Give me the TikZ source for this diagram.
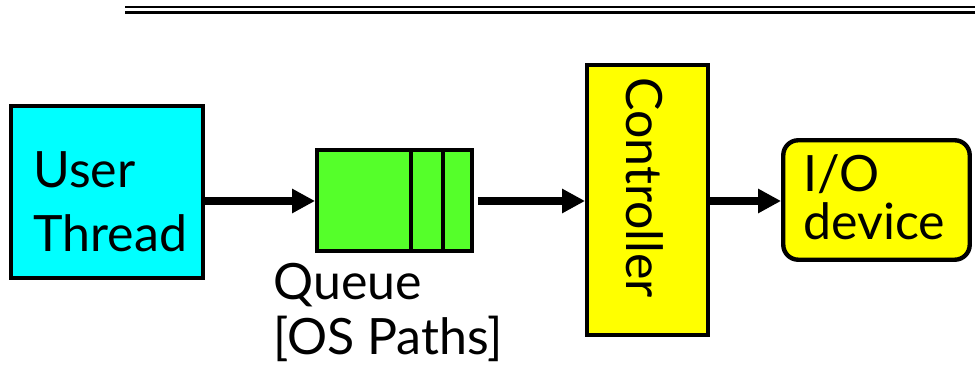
\documentclass[tikz,border=0pt]{standalone}
\usepackage{fontspec}
\setmainfont{Lato}
\usepackage{tikz}
\usetikzlibrary{arrows.meta, calc}
\definecolor{threadcyan}{RGB}{0,255,255}
\definecolor{queuegreen}{RGB}{85,255,42}
\definecolor{ctrlyellow}{RGB}{255,255,0}

\tikzset{
  box/.style={draw, line width=2.5pt, inner sep=0pt},
  lbl/.style={inner sep=0pt, anchor=base west, font=\fontsize{28.5}{34}\selectfont},
  link/.style={line width=4pt, -{Triangle[length=0.46cm, width=0.46cm]}}
}

\begin{document}
\begin{tikzpicture}[x=0.02cm, y=-0.02cm]
  \useasboundingbox (0,0) rectangle (975,367);
  % double rule at the top
  \draw[line width=1.4pt] (125,7) -- (975,7);
  \draw[line width=1.4pt] (125,12.7) -- (975,12.7);

  \node[box, fill=threadcyan, minimum width=3.83cm, minimum height=3.43cm] (thread) at (107,192) {};
  \node[box, fill=queuegreen, minimum width=3.09cm, minimum height=2.01cm] (queue) at (394.5,200.5) {};
  \node[box, fill=ctrlyellow, minimum width=2.41cm, minimum height=5.39cm] (ctrl) at (647.5,200) {};
  \node[box, fill=ctrlyellow, rounded corners=0.3cm, minimum width=3.73cm, minimum height=2.39cm] (io) at (876.5,200) {};
  \foreach \d in {411,443}{
    \draw[line width=2.5pt] (\d,0 |- queue.north) -- (\d,0 |- queue.south);
  }

  \node[lbl] (user) at (33,188) {User};
  \node[lbl] (thr) at (33,252) {Thread};
  \node[lbl] (qname) at (273,300) {Queue};
  \node[lbl] (qpath) at (273,355) {[OS Paths]};
  \node[lbl, rotate=-90] (cname) at (626,77) {Controller};
  \node[lbl] (ioa) at (803,192) {I/O};
  \node[lbl] (iob) at (803,240) {device};

  \draw[link] (thread.east |- 0,201) -- (queue.west |- 0,201);
  \draw[link, shorten <=0.08cm] (queue.east |- 0,201) -- (ctrl.west |- 0,201);
  \draw[link] (ctrl.east |- 0,201) -- (io.west |- 0,201);
\end{tikzpicture}
\end{document}
